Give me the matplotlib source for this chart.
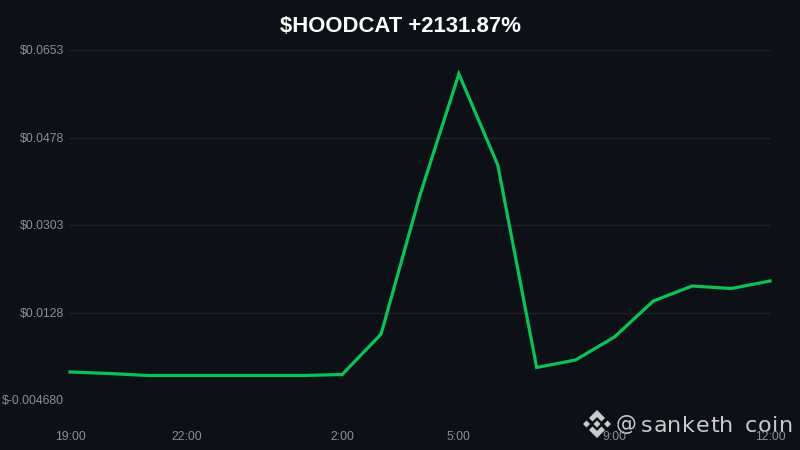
import matplotlib
matplotlib.use("Agg")
import matplotlib.pyplot as plt
from matplotlib.patches import Polygon
from matplotlib.transforms import ScaledTranslation

plt.rcParams['font.family'] = ['Liberation Sans', 'DejaVu Sans']

hours = ['19:00', '20:00', '21:00', '22:00', '23:00', '0:00', '1:00', '2:00', '3:00', '4:00',
         '5:00', '6:00', '7:00', '8:00', '9:00', '10:00', '11:00', '12:00', '12:00b']
prices = [0.00092, 0.00062, 0.00022, 0.00022, 0.00022, 0.00022, 0.00022, 0.00042, 0.00852, 0.03631,
          0.0605, 0.04231, 0.00182, 0.00332, 0.00792, 0.01512, 0.01811, 0.01761, 0.01911]
x_labels = ['19:00', '22:00', '2:00', '5:00', '9:00', '12:00']
x_label_idx = [0, 3, 7, 10, 14, 18]
y_ticks = [-0.00468, 0.0128, 0.0303, 0.0478, 0.0653]
y_labels = ['$-0.004680', '$0.0128', '$0.0303', '$0.0478', '$0.0653']

BG = '#0d1117'

fig = plt.figure(figsize=(8, 4.5), dpi=100, facecolor=BG)

# watermark goes under the chart so the tick labels sit on top of it
ov = fig.add_axes([0, 0, 1, 1], facecolor='none', zorder=1)
ov.set_xlim(0, 800)
ov.set_ylim(450, 0)
ov.axis('off')
wm = '#c9cbcd'
cx, cy = 597, 424


def diamond(x0, y0, r):
    return [(x0, y0 - r), (x0 + r, y0), (x0, y0 + r), (x0 - r, y0)]


ov.add_patch(Polygon([(cx, cy - 14), (cx + 8, cy - 6), (cx + 4.5, cy - 2.5), (cx, cy - 7),
                      (cx - 4.5, cy - 2.5), (cx - 8, cy - 6)], color=wm, lw=0))
ov.add_patch(Polygon([(cx, cy + 14), (cx + 8, cy + 6), (cx + 4.5, cy + 2.5), (cx, cy + 7),
                      (cx - 4.5, cy + 2.5), (cx - 8, cy + 6)], color=wm, lw=0))
ov.add_patch(Polygon(diamond(cx - 10.5, cy, 3.5), color=wm, lw=0))
ov.add_patch(Polygon(diamond(cx + 10.5, cy, 3.5), color=wm, lw=0))
ov.add_patch(Polygon(diamond(cx, cy, 3.5), color=wm, lw=0))


def spaced(x0, y0, word, size=16, gap=0.6):
    # no letter spacing in matplotlib, so place the letters one by one
    r = fig.canvas.get_renderer()
    px = x0
    for ch in word:
        t = ov.text(px, y0, ch, color=wm, fontsize=size, family='DejaVu Sans', va='baseline', ha='left')
        px = t.get_window_extent(r).x1 + gap


ov.text(616, 424, '@', color=wm, fontsize=15, family='DejaVu Sans', va='center', ha='left')
spaced(641, 432, 'sanketh')
spaced(745, 432, 'coin')

# axes box matches the plot area in the picture (70..770, 50..400 px)
ax = fig.add_axes([70 / 800, 50 / 450, 700 / 800, 350 / 450], facecolor='none', zorder=2)

x = list(range(len(hours)))
ax.plot(x, prices, color='#00c853', lw=2.3, solid_joinstyle='miter', zorder=3, clip_on=False)

ax.set_xlim(0, len(hours) - 1)
ax.set_ylim(y_ticks[0], y_ticks[-1])
ax.set_xticks(x_label_idx)
ax.set_xticklabels(x_labels)
ax.set_yticks(y_ticks)
ax.set_yticklabels(y_labels, va='center')
ax.tick_params(axis='both', length=0, labelcolor='#8b8f96', labelsize=8.8)
ax.tick_params(axis='x', pad=22)
ax.tick_params(axis='y', pad=4.5)
# nudge y labels one pixel down
nudge = ScaledTranslation(0, -1 / 100, fig.dpi_scale_trans)
for lab in ax.get_yticklabels():
    lab.set_transform(lab.get_transform() + nudge)
ax.grid(axis='y', color='#1e2228', lw=1)
ax.set_axisbelow(True)
for s in ax.spines.values():
    s.set_visible(False)

fig.text(0.5, 1 - 26 / 450, '$HOODCAT +2131.87%', color='white', fontsize=15.9,
         fontweight='bold', ha='center', va='center')

fig.savefig('out.png', dpi=100, facecolor=BG)
